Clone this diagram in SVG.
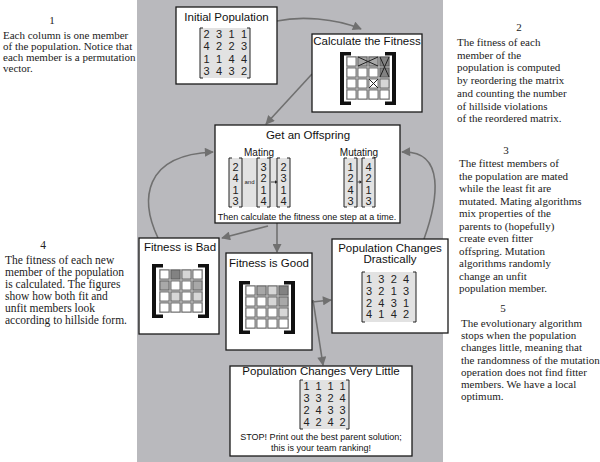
<svg xmlns="http://www.w3.org/2000/svg" width="600" height="462" viewBox="0 0 600 462">
<defs>
<marker id="ah" viewBox="0 0 10 10" refX="9" refY="5" markerWidth="10" markerHeight="9" markerUnits="userSpaceOnUse" orient="auto"><path d="M0,0 L10,5 L0,10 z" fill="#707070"/></marker>
</defs>
<style>
.box{fill:#fff;stroke:#1a1a1a;stroke-width:1.3}
.ttl{font-family:"Liberation Sans",Arial,sans-serif;font-size:11.5px;fill:#111;text-anchor:middle}
.sm{font-family:"Liberation Sans",Arial,sans-serif;font-size:9px;fill:#111;text-anchor:middle}
.lab{font-family:"Liberation Sans",Arial,sans-serif;font-size:10px;fill:#111;text-anchor:middle}
.num{font-family:"Liberation Sans",Arial,sans-serif;font-size:11px;fill:#222;text-anchor:middle}
.note{font-family:"Liberation Serif","Times New Roman",serif;font-size:11px;fill:#222}
.note4{font-family:"Liberation Serif","Times New Roman",serif;font-size:11.5px;fill:#222}
.mfill{fill:#e2e2e2}
.br{fill:none;stroke:#222;stroke-width:1}
.tb{fill:#111}
.back{fill:#bdbdbd}
.c{stroke:#555;stroke-width:0.8}
.w{fill:#fff}.l{fill:#d6d6d6}.m{fill:#a8a8a8}.d{fill:#828282}
.x{stroke:#222;stroke-width:1;fill:none}
.con{fill:none;stroke:#707070;stroke-width:1.6;marker-end:url(#ah)}
</style>
<rect x="137" y="0" width="306" height="462" fill="#b9b9bd"/>

<g id="notes">
<text class="note" x="52" y="24" text-anchor="middle">1</text>
<text class="note" x="3" y="39">Each column is one member</text>
<text class="note" x="3" y="50">of the population. Notice that</text>
<text class="note" x="3" y="61">each member is a permutation</text>
<text class="note" x="3" y="72">vector.</text>

<text class="note4" x="43" y="249" text-anchor="middle">4</text>
<text class="note4" x="5" y="264">The fitness of each new</text>
<text class="note4" x="5" y="276">member of the population</text>
<text class="note4" x="5" y="288">is calculated. The figures</text>
<text class="note4" x="5" y="300">show how both fit and</text>
<text class="note4" x="5" y="312">unfit members look</text>
<text class="note4" x="5" y="324">according to hillside form.</text>

<text class="note" x="519" y="31" text-anchor="middle">2</text>
<text class="note" x="457" y="46">The fitness of each</text>
<text class="note" x="457" y="58.7">member of the</text>
<text class="note" x="457" y="71.4">population is computed</text>
<text class="note" x="457" y="84.1">by reordering the matrix</text>
<text class="note" x="457" y="96.8">and counting the number</text>
<text class="note" x="457" y="109.5">of hillside violations</text>
<text class="note" x="457" y="122.2">of the reordered matrix.</text>

<text class="note" x="506" y="154" text-anchor="middle">3</text>
<text class="note" x="459" y="167">The fittest members of</text>
<text class="note" x="459" y="179.5">the population are mated</text>
<text class="note" x="459" y="192">while the least fit are</text>
<text class="note" x="459" y="204.5">mutated. Mating algorithms</text>
<text class="note" x="459" y="217">mix properties of the</text>
<text class="note" x="459" y="229.5">parents to (hopefully)</text>
<text class="note" x="459" y="242">create even fitter</text>
<text class="note" x="459" y="254.5">offspring. Mutation</text>
<text class="note" x="459" y="267">algorithms randomly</text>
<text class="note" x="459" y="279.5">change an unfit</text>
<text class="note" x="459" y="292">population member.</text>

<text class="note" x="503" y="312" text-anchor="middle">5</text>
<text class="note" x="461" y="327">The evolutionary algorithm</text>
<text class="note" x="461" y="339.2">stops when the population</text>
<text class="note" x="461" y="351.4">changes little, meaning that</text>
<text class="note" x="461" y="363.6">the randomness of the mutation</text>
<text class="note" x="461" y="375.8">operation does not find fitter</text>
<text class="note" x="461" y="388">members. We have a local</text>
<text class="note" x="461" y="400.2">optimum.</text>
</g>

<g id="connectors">
<path class="con" d="M277,21 C300,16 335,18 361,29"/>
<path class="con" d="M312,74 L266,124"/>
<path class="con" d="M268,226 L222,238"/>
<path class="con" d="M158,238 C140,200 143,155 213,152"/>
<path class="con" d="M277,223 L277,252"/>
<path class="con" d="M312,302 L331,300"/>
<path class="con" d="M313,300 L323,365"/>
<path class="con" d="M424,239 C438,200 446,150 402,152"/>
</g>

<g id="initial-population">
<rect class="box" x="176" y="7" width="101" height="77"/>
<text class="ttl" x="226.5" y="21">Initial Population</text>
<rect class="mfill" x="200" y="28" width="50" height="50"/>
<path class="br" d="M203,28 H200 V78 H203 M247,28 H250 V78 H247"/>
<text class="num" y="37.5"><tspan x="206.5">2</tspan><tspan x="219">3</tspan><tspan x="231.5">1</tspan><tspan x="244">1</tspan></text>
<text class="num" y="50"><tspan x="206.5">4</tspan><tspan x="219">2</tspan><tspan x="231.5">2</tspan><tspan x="244">3</tspan></text>
<text class="num" y="62.5"><tspan x="206.5">1</tspan><tspan x="219">1</tspan><tspan x="231.5">4</tspan><tspan x="244">4</tspan></text>
<text class="num" y="75"><tspan x="206.5">3</tspan><tspan x="219">4</tspan><tspan x="231.5">3</tspan><tspan x="244">2</tspan></text>
</g>

<g id="calculate-fitness">
<rect class="box" x="312" y="34" width="110" height="78"/>
<text class="ttl" x="367" y="45">Calculate the Fitness</text>
<rect class="back" x="346" y="56" width="44" height="44"/>
<rect class="c w" x="347" y="57" width="9" height="9"/><rect class="c m" x="358" y="57" width="9" height="9"/><rect class="c m" x="369" y="57" width="9" height="9"/><rect class="c d" x="380" y="57" width="9" height="9"/>
<rect class="c w" x="347" y="68" width="9" height="9"/><rect class="c w" x="358" y="68" width="9" height="9"/><rect class="c w" x="369" y="68" width="9" height="9"/><rect class="c d" x="380" y="68" width="9" height="9"/>
<rect class="c w" x="347" y="79" width="9" height="9"/><rect class="c w" x="358" y="79" width="9" height="9"/><rect class="c w" x="369" y="79" width="9" height="9"/><rect class="c l" x="380" y="79" width="9" height="9"/>
<rect class="c w" x="347" y="90" width="9" height="9"/><rect class="c w" x="358" y="90" width="9" height="9"/><rect class="c w" x="369" y="90" width="9" height="9"/><rect class="c w" x="380" y="90" width="9" height="9"/>
<path class="x" d="M358,57 L378,66 M358,66 L378,57 M380,57 L389,77 M389,57 L380,77 M369,79 L378,88 M378,79 L369,88"/>
<path class="tb" d="M340,52 h11 v3.5 h-7 v46 h7 v3.5 h-11 z M396,52 h-11 v3.5 h7 v46 h-7 v3.5 h11 z"/>
</g>

<g id="get-offspring">
<rect class="box" x="215" y="125" width="185" height="98"/>
<text class="ttl" x="308" y="139">Get an Offspring</text>
<text class="lab" x="259" y="155.5">Mating</text>
<text class="lab" x="359" y="155.5">Mutating</text>
<rect class="mfill" x="229" y="158" width="61" height="49"/>
<rect class="mfill" x="344" y="158" width="31" height="49"/>
<path class="br" d="M232,158 H229 V207 H232 M239,158 H242 V207 H239 M260,158 H257 V207 H260 M267,158 H270 V207 H267 M280,158 H277 V207 H280 M287,158 H290 V207 H287 M347,158 H344 V207 H347 M354,158 H357 V207 H354 M365,158 H362 V207 H365 M372,158 H375 V207 H372"/>
<text x="249.5" y="184" style="font-family:'Liberation Sans',Arial,sans-serif;font-size:6px;fill:#222;text-anchor:middle">and</text>
<path d="M271,182 H275" stroke="#222" stroke-width="0.8"/><path d="M275,180.3 L277.5,182 L275,183.7 z" fill="#222"/>
<path d="M357.5,182 H360" stroke="#222" stroke-width="0.8"/><path d="M359.5,180.3 L362,182 L359.5,183.7 z" fill="#222"/>
<text class="num" x="235.5"><tspan x="235.5" y="170.5">2</tspan><tspan x="235.5" y="182">4</tspan><tspan x="235.5" y="193.5">1</tspan><tspan x="235.5" y="205">3</tspan></text>
<text class="num"><tspan x="263.5" y="170.5">3</tspan><tspan x="263.5" y="182">2</tspan><tspan x="263.5" y="193.5">1</tspan><tspan x="263.5" y="205">4</tspan></text>
<text class="num"><tspan x="283.5" y="170.5">2</tspan><tspan x="283.5" y="182">3</tspan><tspan x="283.5" y="193.5">1</tspan><tspan x="283.5" y="205">4</tspan></text>
<text class="num"><tspan x="350.5" y="170.5">1</tspan><tspan x="350.5" y="182">2</tspan><tspan x="350.5" y="193.5">4</tspan><tspan x="350.5" y="205">3</tspan></text>
<text class="num"><tspan x="368.5" y="170.5">4</tspan><tspan x="368.5" y="182">2</tspan><tspan x="368.5" y="193.5">1</tspan><tspan x="368.5" y="205">3</tspan></text>
<text class="sm" x="307" y="220">Then calculate the fitness one step at a time.</text>
</g>

<g id="fitness-bad">
<rect class="box" x="139" y="238" width="80" height="96"/>
<text class="ttl" x="180" y="251">Fitness is Bad</text>
<rect class="back" x="159" y="269" width="44" height="44"/>
<rect class="c w" x="160" y="270" width="9" height="9"/><rect class="c d" x="171" y="270" width="9" height="9"/><rect class="c l" x="182" y="270" width="9" height="9"/><rect class="c w" x="193" y="270" width="9" height="9"/>
<rect class="c m" x="160" y="281" width="9" height="9"/><rect class="c w" x="171" y="281" width="9" height="9"/><rect class="c w" x="182" y="281" width="9" height="9"/><rect class="c m" x="193" y="281" width="9" height="9"/>
<rect class="c w" x="160" y="292" width="9" height="9"/><rect class="c l" x="171" y="292" width="9" height="9"/><rect class="c w" x="182" y="292" width="9" height="9"/><rect class="c l" x="193" y="292" width="9" height="9"/>
<rect class="c w" x="160" y="303" width="9" height="9"/><rect class="c w" x="171" y="303" width="9" height="9"/><rect class="c w" x="182" y="303" width="9" height="9"/><rect class="c w" x="193" y="303" width="9" height="9"/>
<path class="tb" d="M152,264 h11 v3.5 h-7 v47 h7 v3.5 h-11 z M209,264 h-11 v3.5 h7 v47 h-7 v3.5 h11 z"/>
</g>

<g id="fitness-good">
<rect class="box" x="226" y="253" width="86" height="97"/>
<text class="ttl" x="269" y="267">Fitness is Good</text>
<rect class="back" x="245" y="285" width="44" height="44"/>
<rect class="c w" x="246" y="286" width="9" height="9"/><rect class="c m" x="257" y="286" width="9" height="9"/><rect class="c l" x="268" y="286" width="9" height="9"/><rect class="c d" x="279" y="286" width="9" height="9"/>
<rect class="c w" x="246" y="297" width="9" height="9"/><rect class="c w" x="257" y="297" width="9" height="9"/><rect class="c l" x="268" y="297" width="9" height="9"/><rect class="c m" x="279" y="297" width="9" height="9"/>
<rect class="c w" x="246" y="308" width="9" height="9"/><rect class="c w" x="257" y="308" width="9" height="9"/><rect class="c w" x="268" y="308" width="9" height="9"/><rect class="c l" x="279" y="308" width="9" height="9"/>
<rect class="c w" x="246" y="319" width="9" height="9"/><rect class="c w" x="257" y="319" width="9" height="9"/><rect class="c w" x="268" y="319" width="9" height="9"/><rect class="c w" x="279" y="319" width="9" height="9"/>
<path class="tb" d="M239,281 h11 v3.5 h-7 v46 h7 v3.5 h-11 z M295,281 h-11 v3.5 h7 v46 h-7 v3.5 h11 z"/>
</g>

<g id="population-drastic">
<rect class="box" x="332" y="239" width="116" height="94"/>
<text class="ttl" x="390" y="252">Population Changes</text>
<text class="ttl" x="390" y="263">Drastically</text>
<rect class="mfill" x="362" y="272" width="54" height="50"/>
<path class="br" d="M365,272 H362 V322 H365 M413,272 H416 V322 H413"/>
<text class="num" y="283"><tspan x="369">1</tspan><tspan x="381.3">3</tspan><tspan x="393.7">2</tspan><tspan x="406">4</tspan></text>
<text class="num" y="295"><tspan x="369">3</tspan><tspan x="381.3">2</tspan><tspan x="393.7">1</tspan><tspan x="406">3</tspan></text>
<text class="num" y="306.5"><tspan x="369">2</tspan><tspan x="381.3">4</tspan><tspan x="393.7">3</tspan><tspan x="406">1</tspan></text>
<text class="num" y="318"><tspan x="369">4</tspan><tspan x="381.3">1</tspan><tspan x="393.7">4</tspan><tspan x="406">2</tspan></text>
</g>

<g id="population-little">
<rect class="box" x="230" y="366" width="182" height="90"/>
<text class="ttl" x="321" y="375">Population Changes Very Little</text>
<rect class="mfill" x="300" y="380" width="49" height="49"/>
<path class="br" d="M303,380 H300 V429 H303 M346,380 H349 V429 H346"/>
<text class="num" y="390"><tspan x="306.5">1</tspan><tspan x="318.5">1</tspan><tspan x="330.5">1</tspan><tspan x="342.5">1</tspan></text>
<text class="num" y="402"><tspan x="306.5">3</tspan><tspan x="318.5">3</tspan><tspan x="330.5">2</tspan><tspan x="342.5">4</tspan></text>
<text class="num" y="414"><tspan x="306.5">2</tspan><tspan x="318.5">4</tspan><tspan x="330.5">3</tspan><tspan x="342.5">3</tspan></text>
<text class="num" y="426"><tspan x="306.5">4</tspan><tspan x="318.5">2</tspan><tspan x="330.5">4</tspan><tspan x="342.5">2</tspan></text>
<text class="sm" x="321" y="440">STOP! Print out the best parent solution;</text>
<text class="sm" x="321" y="451">this is your team ranking!</text>
</g>
</svg>
